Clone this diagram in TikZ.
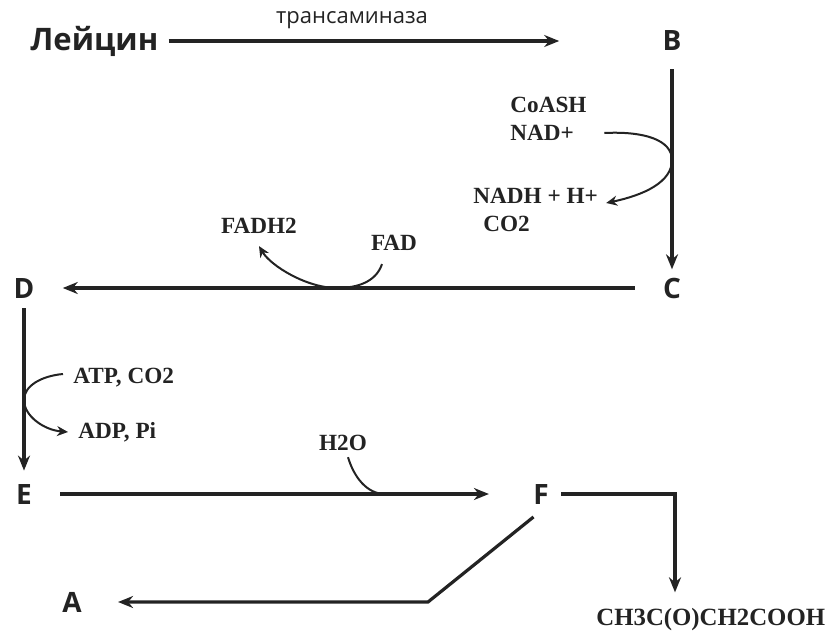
\documentclass[tikz,border=0pt]{standalone}
\usepackage{fontspec}
\setmainfont{Liberation Serif}
\newfontfamily\opensans{Open Sans}
\usetikzlibrary{arrows.meta}
\definecolor{inkgray}{RGB}{35,35,35}

\begin{document}
\begin{tikzpicture}[
    x=0.5pt, y=-0.5pt,
    every node/.style={inner sep=0pt, text=inkgray},
    letter/.style={font=\opensans\bfseries\fontsize{14}{16}\selectfont},
    compound/.style={font=\bfseries\fontsize{11.6}{14}\selectfont, anchor=west},
    enzyme/.style={font=\opensans\fontsize{11}{13}\selectfont},
    arrow/.style={-{Stealth[length=7.5pt, width=6pt]}, draw=inkgray, line width=1.6pt},
    cofactor/.style={draw=inkgray, line width=1pt},
    cofarrow/.style={cofactor, -{Stealth[length=5.5pt, width=5pt]}}
]
\useasboundingbox (0,0) rectangle (825,638);

\node (leucine) [letter, font=\opensans\bfseries\fontsize{15.5}{18}\selectfont, anchor=west] at (30,41) {Лейцин};
\node (transam) [enzyme] at (352,20) {трансаминаза};
\node (B) [letter] at (672,41) {B};
\node (C) [letter] at (672,288) {C};
\node (D) [letter] at (24,288) {D};
\node (E) [letter] at (24,494) {E};
\node (F) [letter] at (541,494) {F};
\node (A) [letter] at (72,602) {A};

\node (coash) [compound] at (510,105) {CoASH};
\node (nadp) [compound] at (510,133) {NAD+};
\node (nadh) [compound] at (473,196) {NADH + H+};
\node (co2a) [compound] at (483,224) {CO2};
\node (fadh) [compound, anchor=center] at (259,226) {FADH2};
\node (fad) [compound, anchor=center] at (394,243) {FAD};
\node (atp) [compound] at (73,378) {ATP, CO2};
\node (adp) [compound] at (78,432) {ADP, Pi};
\node (water) [compound, anchor=center] at (343,443) {H2O};
\node (acac) [compound, font=\bfseries\fontsize{12.4}{15}\selectfont] at (596,620) {CH3C(O)CH2COOH};

\coordinate (bcjoin) at (672,160);
\coordinate (cdjoin) at (337,288);
\coordinate (dejoin) at (24,400);
\coordinate (efjoin) at (385,494);
\coordinate (fcorner) at (675,494);
\coordinate (akink) at (428,602);

\draw [arrow, shorten <=5pt, shorten >=51.5pt] (leucine) -- (B);
\draw [arrow, shorten <=9pt, shorten >=4pt] (B) -- (C);
\draw [arrow, shorten <=14pt, shorten >=14pt] (C) -- (D);
\draw [arrow, shorten <=5pt, shorten >=6.5pt] (D) -- (E);
\draw [arrow, shorten <=14pt, shorten >=22pt] (E) -- (F);
\draw [arrow, shorten <=6pt, shorten >=8pt] (F.east) -- (fcorner) -- (fcorner |- acac.north);
\draw [arrow, shorten <=10pt, shorten >=18pt] (F.south east) -- (akink) -- (A);

\draw [cofarrow] ([xshift=15pt]nadp.east) .. controls +(40,-2) and +(0,-20) .. (bcjoin)
    .. controls +(0,22) and +(38,-8) .. ([shift={(8,7)}]nadh.east);
\draw [cofarrow] ([shift={(-12,13)}]fad.south) .. controls +(-6,18) and +(20,0) .. (cdjoin)
    .. controls +(-30,0) and +(12,20) .. ([yshift=-6pt]fadh.south);
\draw [cofarrow] ([shift={(-10,-4)}]atp.west) .. controls +(-22,2) and +(0,-14) .. (dejoin)
    .. controls +(0,16) and +(-24,-2) .. ([xshift=-5pt]adp.west);
\draw [cofactor] ([shift={(5,6)}]water.south) .. controls +(6,20) and +(-18,0) .. (efjoin);

\end{tikzpicture}
\end{document}
